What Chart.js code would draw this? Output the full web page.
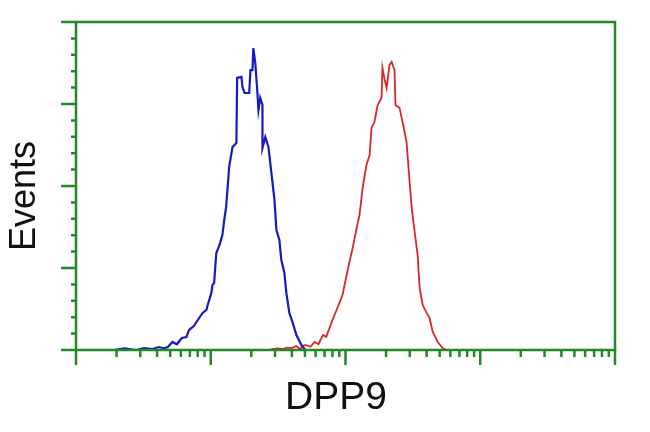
<!DOCTYPE html>
<html>
<head>
<meta charset="utf-8">
<title>DPP9</title>
<script src="https://cdn.jsdelivr.net/npm/chart.js@4/dist/chart.umd.min.js"></script>
<style>
  html, body { margin: 0; padding: 0; background: #ffffff; }
  #wrap { width: 650px; height: 432px; }
</style>
</head>
<body>
<div id="wrap"><canvas id="facsChart" width="650" height="432"></canvas></div>
<script>
// axis labels
const xLabel = "DPP9";
const yLabel = "Events";

// axis ranges (log fluorescence, linear counts)
const xMin = 1;
const xMax = 10000;
const yMin = 0;
const yMax = 200;
const yMajorTicks = [0, 50, 100, 150, 200];
const yMinorTicks = [10, 20, 30, 40, 60, 70, 80, 90, 110, 120, 130, 140, 160, 170, 180, 190];
const xMajorTicks = [1, 10, 100, 1000, 10000];
const xMinorTicks = [
    2, 3, 4, 5, 6, 7, 8, 9,
    20, 30, 40, 50, 60, 70, 80, 90,
    200, 300, 400, 500, 600, 700, 800, 900,
    2000, 3000, 4000, 5000, 6000, 7000, 8000, 9000
];

// control sample (blue)
const controlX = [1.9, 2.3, 2.8, 3.2, 3.7, 4.1, 4.5, 4.8, 5.2, 5.6, 6.1, 6.6, 6.9, 7.5, 8.2, 8.7, 9.3, 9.4, 10.1, 10.3, 10.6, 10.8, 11.0, 11.6, 12.2, 12.6, 13.0, 13.3, 13.7, 14.5, 15.5, 15.7, 16.9, 17.2, 17.8, 19.3, 19.7, 20.4, 20.7, 21.4, 22.2, 22.6, 23.3, 24.2, 24.2, 25.4, 26.8, 28.2, 29.7, 30.7, 32.3, 33.4, 35.2, 36.4, 38.3, 40.4, 43.2, 47.1, 50.4];
const controlY = [0, 1, 0, 1.2, 0.6, 1.8, 1, 1.8, 4.9, 3.5, 7.3, 7.9, 12.2, 14.6, 19.5, 22.6, 24.4, 26.2, 34.8, 39.6, 40.9, 50.6, 59.1, 64.0, 70.1, 79.3, 87.2, 97.6, 111.6, 123.8, 126.2, 165.9, 166.5, 160.4, 156.7, 156.7, 170.7, 170.7, 184.1, 175.0, 156.7, 146.3, 153.7, 149.4, 123.2, 129.9, 123.8, 107.9, 91.5, 73.2, 67.1, 54.9, 47.0, 34.8, 22.6, 17.1, 9.1, 3.0, 0];

// DPP9 transfected sample (red)
const dpp9X = [27, 31, 34, 37, 40, 43, 46, 49, 51, 55, 59, 63, 68, 72, 79, 87, 95, 102, 107, 113, 121, 127, 134, 143, 151, 156, 164, 173, 185, 188, 195, 202, 212, 220, 231, 235, 252, 265, 284, 299, 310, 326, 343, 355, 374, 400, 421, 444, 483, 526, 560, 625];
const dpp9Y = [0, 1.0, 0.6, 1.5, 1.2, 2.4, 0.6, 2.8, 3.0, 2.0, 4.9, 3.5, 9.1, 8, 17.1, 25.6, 33.5, 45.7, 53.7, 62.2, 74.4, 82.3, 98.8, 112.8, 118.9, 135.4, 139.0, 149.4, 153.7, 172.0, 165, 159.8, 173.8, 175.6, 170.7, 149.4, 147.6, 139.0, 126.8, 102.4, 86.6, 72.0, 57.9, 37.8, 27.4, 22.6, 19.5, 11.0, 4.9, 1.2, 0, 0];

const frameColor = "rgb(38, 135, 38)";

function toPoints(xs, ys) {
    return xs.map((x, i) => ({ x: x, y: ys[i] }));
}

// frame, tick marks and axis labels drawn on top of the scales
const facsFrame = {
    id: "facsFrame",
    afterDatasetsDraw(chart) {
        const ctx = chart.ctx;
        const area = chart.chartArea;
        const xs = chart.scales.x;
        const ys = chart.scales.y;

        ctx.save();
        ctx.strokeStyle = frameColor;
        ctx.lineWidth = 2.5;
        ctx.strokeRect(area.left, area.top, area.right - area.left, area.bottom - area.top);

        ctx.lineWidth = 2.5;
        ctx.beginPath();
        yMajorTicks.forEach((v) => {
            const py = ys.getPixelForValue(v);
            ctx.moveTo(area.left - 15, py);
            ctx.lineTo(area.left, py);
        });
        yMinorTicks.forEach((v) => {
            const py = ys.getPixelForValue(v);
            ctx.moveTo(area.left - 5, py);
            ctx.lineTo(area.left, py);
        });
        xMajorTicks.forEach((v) => {
            const px = xs.getPixelForValue(v);
            ctx.moveTo(px, area.bottom);
            ctx.lineTo(px, area.bottom + 15);
        });
        xMinorTicks.forEach((v) => {
            const px = xs.getPixelForValue(v);
            ctx.moveTo(px, area.bottom);
            ctx.lineTo(px, area.bottom + 7);
        });
        ctx.stroke();

        // axis titles
        ctx.fillStyle = "#111111";
        ctx.textAlign = "center";
        ctx.textBaseline = "middle";
        ctx.font = "39px 'Liberation Sans', Arial, sans-serif";
        ctx.fillText(xLabel, 336, 398);

        ctx.translate(25, 196);
        ctx.rotate(-Math.PI / 2);
        ctx.font = "36px 'Liberation Sans', Arial, sans-serif";
        ctx.fillText(yLabel, 0, 0);
        ctx.restore();
    }
};

new Chart(document.getElementById("facsChart"), {
    type: "line",
    data: {
        datasets: [
            {
                label: "Control",
                data: toPoints(controlX, controlY),
                borderColor: "rgb(25, 25, 195)",
                borderWidth: 2.2,
                pointRadius: 0,
                tension: 0,
                fill: false
            },
            {
                label: "DPP9",
                data: toPoints(dpp9X, dpp9Y),
                borderColor: "rgb(215, 40, 40)",
                borderWidth: 1.8,
                pointRadius: 0,
                tension: 0,
                fill: false
            }
        ]
    },
    options: {
        responsive: false,
        animation: false,
        layout: {
            padding: { left: 76, right: 35, top: 22, bottom: 82 }
        },
        plugins: {
            legend: { display: false },
            tooltip: { enabled: false }
        },
        scales: {
            x: {
                type: "logarithmic",
                min: xMin,
                max: xMax,
                display: false
            },
            y: {
                type: "linear",
                min: yMin,
                max: yMax,
                display: false
            }
        }
    },
    plugins: [facsFrame]
});
</script>
</body>
</html>
